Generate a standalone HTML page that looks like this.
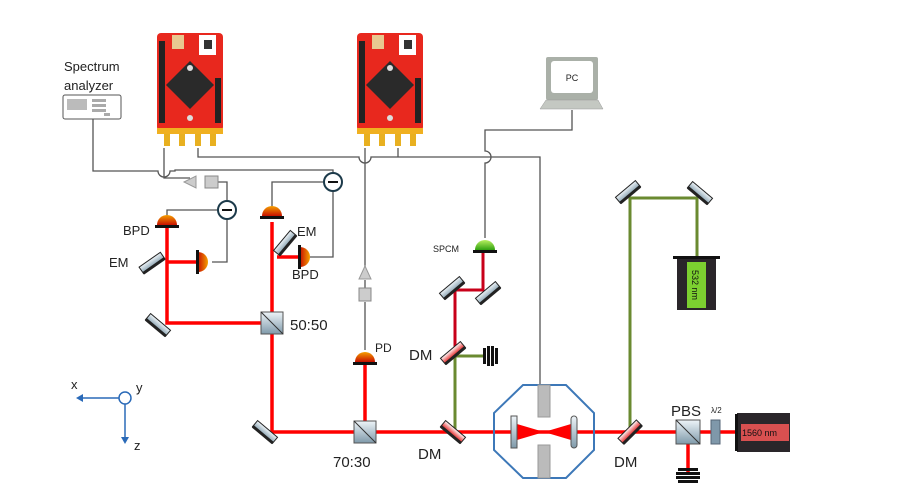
<!DOCTYPE html>
<html><head><style>body{margin:0;background:#fff}svg{display:block}text{font-family:"Liberation Sans",sans-serif}</style></head><body>
<svg width="920" height="503" viewBox="0 0 920 503" xmlns="http://www.w3.org/2000/svg">
<defs>
<linearGradient id="dome" x1="0" y1="0" x2="0" y2="1"><stop offset="0" stop-color="#f5a000"/><stop offset="1" stop-color="#c81000"/></linearGradient>
<linearGradient id="domeh" x1="0" y1="0" x2="1" y2="0"><stop offset="0" stop-color="#c81000"/><stop offset="1" stop-color="#f5a000"/></linearGradient>
<linearGradient id="gdome" x1="0" y1="0" x2="0" y2="1"><stop offset="0" stop-color="#b8f060"/><stop offset="1" stop-color="#30a010"/></linearGradient>
<linearGradient id="mir" x1="0" y1="0" x2="0" y2="1"><stop offset="0" stop-color="#eef4f8"/><stop offset="1" stop-color="#7f9aaa"/></linearGradient>
<linearGradient id="dm" x1="0" y1="0" x2="0" y2="1"><stop offset="0" stop-color="#fff"/><stop offset="1" stop-color="#e00000"/></linearGradient>
<g id="board">
<rect x="0" y="0" width="66" height="98" rx="4" fill="#e8281e"/>
<rect x="2" y="8" width="6" height="60" fill="#222"/><rect x="58" y="45" width="6" height="45" fill="#222"/><rect x="2" y="50" width="6" height="40" fill="#222"/>
<rect x="15" y="2" width="12" height="14" fill="#e8c890"/><rect x="42" y="2" width="17" height="20" fill="#fff"/><rect x="47" y="7" width="8" height="9" fill="#333"/>
<polygon points="33,28 57,52 33,76 9,52" fill="#2a2a2a"/>
<circle cx="33" cy="35" r="3" fill="#ddd"/><circle cx="33" cy="85" r="3" fill="#ddd"/>
<rect x="0" y="95" width="66" height="6" fill="#f0b020"/>
<rect x="7" y="101" width="6" height="12" fill="#e8b020"/><rect x="22" y="101" width="6" height="12" fill="#e8b020"/><rect x="38" y="101" width="6" height="12" fill="#e8b020"/><rect x="53" y="101" width="6" height="12" fill="#e8b020"/>
</g>
<g id="mirror"><rect x="-13" y="-4" width="26" height="8" fill="url(#mir)" stroke="#222" stroke-width="1"/><rect x="-13" y="2" width="26" height="3" fill="#222"/></g>
<g id="dmr"><rect x="-13" y="-4" width="26" height="8" fill="url(#dm)" stroke="#222" stroke-width="1"/><rect x="-13" y="2" width="26" height="3" fill="#222"/></g>
</defs>
<!-- gray wiring -->
<g fill="none" stroke="#555" stroke-width="1.3">
<path d="M93 119 V171 H158 a6 6 0 0 0 12 0 H175 V170 H333 V173"/>
<path d="M164 148 V178 H190"/>
<path d="M218 182 H227 V201"/>
<path d="M227 219 V262 H212"/>
<path d="M167 218 V210 H218"/>
<path d="M198 148 V157 H359 a6 6 0 0 0 12 0 H540 V385"/>
<path d="M398 148 V157"/>
<path d="M342 182 H333 M333 191 V257 H308"/>
<path d="M324 182 H272 V208"/>
<path d="M365 148 V268"/>
<path d="M365 280 V288 M365 302 V350"/>
<path d="M572 110 V130 H485 V151 a6 6 0 0 1 0 12 V238"/>
</g>
<!-- boards -->
<use href="#board" x="157" y="33"/><use href="#board" x="357" y="33"/>
<!-- spectrum analyzer -->
<text x="64" y="71" font-size="13" fill="#222">Spectrum</text><text x="64" y="90" font-size="13" fill="#222">analyzer</text>
<rect x="63" y="95" width="58" height="24" rx="2" fill="#fff" stroke="#555"/><rect x="67" y="99" width="20" height="11" fill="#bbb"/>
<g fill="#aaa"><rect x="92" y="99" width="14" height="3"/><rect x="92" y="104" width="14" height="3"/><rect x="92" y="109" width="14" height="3"/><rect x="104" y="113" width="6" height="3"/></g>
<!-- PC -->
<rect x="546" y="57" width="52" height="43" rx="2" fill="#aab0a8"/><rect x="551" y="61" width="42" height="32" rx="3" fill="#fff"/>
<text x="572" y="81" font-size="9" text-anchor="middle" fill="#222">PC</text>
<path d="M546 100 H598 L603 109 H540 Z" fill="#c4c8c2" stroke="#999" stroke-width="0.5"/>
<!-- amp & filter -->
<polygon points="184,182 196,176 196,188" fill="#ccc" stroke="#999"/><rect x="205" y="176" width="13" height="12" fill="#ccc" stroke="#888"/>
<polygon points="365,266 359,279 371,279" fill="#ccc" stroke="#999"/><rect x="359" y="288" width="12" height="13" fill="#ccc" stroke="#888"/>
<!-- subtractors -->
<g fill="#fff" stroke="#1c3a4a" stroke-width="2"><circle cx="227" cy="210" r="9"/><circle cx="333" cy="182" r="9"/></g>
<path d="M222 210 H232 M328 182 H338" stroke="#111" stroke-width="2"/>
<!-- red beams -->
<g stroke="#f00" stroke-width="3.5" fill="none">
<path d="M167 228 V323 H272 M167 262 H198"/>
<path d="M272 222 V432 H740 M277 257 H298"/>
<path d="M365 360 V432 M688 432 V475"/>
</g>
<g stroke="#c8001a" stroke-width="3" fill="none"><path d="M455 353 V290 H483 V253"/></g>
<!-- green beams -->
<g stroke="#6a8a30" stroke-width="3" fill="none"><path d="M455 432 V356 H485"/><path d="M630 432 V198 H697 V258"/></g>
<!-- detectors -->
<path d="M157 225 a10 10 0 0 1 20 0 Z" fill="url(#dome)"/><rect x="155" y="225" width="24" height="3" fill="#111"/>
<path d="M262 216 a10 10 0 0 1 20 0 Z" fill="url(#dome)"/><rect x="260" y="216" width="24" height="3" fill="#111"/>
<path d="M198 252 a10 10 0 0 1 0 20 Z" fill="url(#domeh)"/><rect x="196" y="250" width="3" height="24" fill="#111"/>
<path d="M300 247 a10 10 0 0 1 0 20 Z" fill="url(#domeh)"/><rect x="298" y="245" width="3" height="24" fill="#111"/>
<path d="M355 362 a10 10 0 0 1 20 0 Z" fill="url(#dome)"/><rect x="353" y="362" width="24" height="3" fill="#111"/>
<path d="M475 250 a10 10 0 0 1 20 0 Z" fill="url(#gdome)"/><rect x="473" y="250" width="24" height="3" fill="#111"/>
<!-- mirrors -->
<use href="#mirror" transform="translate(152,263) rotate(-35)"/>
<use href="#mirror" transform="translate(285,243) rotate(-50)"/>
<use href="#mirror" transform="translate(158,325) rotate(40)"/>
<use href="#mirror" transform="translate(265,432) rotate(40)"/>
<use href="#mirror" transform="translate(452,288) rotate(-40)"/>
<use href="#mirror" transform="translate(488,293) rotate(-40)"/>
<use href="#mirror" transform="translate(628,192) rotate(-40)"/>
<use href="#mirror" transform="translate(700,193) rotate(40)"/>
<use href="#dmr" transform="translate(453,353) rotate(-40)"/>
<use href="#dmr" transform="translate(453,432) rotate(40)"/>
<use href="#dmr" transform="translate(630,432) rotate(-45)"/>
<!-- beam splitters -->
<rect x="261" y="312" width="22" height="22" fill="url(#mir)" stroke="#555"/><path d="M261 312 L283 334" stroke="#333"/>
<rect x="354" y="421" width="22" height="22" fill="url(#mir)" stroke="#555"/><path d="M354 421 L376 443" stroke="#333"/>
<rect x="676" y="420" width="24" height="24" fill="url(#mir)" stroke="#555"/><path d="M676 420 L700 444" stroke="#333"/>
<!-- beam dumps -->
<g fill="#111"><rect x="483" y="348" width="3" height="16"/><rect x="487" y="346" width="3" height="20"/><rect x="491" y="346" width="3" height="20"/><rect x="495" y="348" width="3" height="16"/>
<rect x="678" y="468" width="20" height="3"/><rect x="676" y="472" width="24" height="3"/><rect x="676" y="476" width="24" height="3"/><rect x="678" y="480" width="20" height="3"/></g>
<!-- waveplate -->
<rect x="711" y="420" width="9" height="24" fill="#7f98aa" stroke="#567"/>
<!-- lasers -->
<rect x="677" y="257" width="39" height="53" fill="#2a262a"/><rect x="673" y="256" width="47" height="3" fill="#111"/>
<rect x="687" y="262" width="19" height="46" fill="#7cd030"/>
<text transform="translate(692,270) rotate(90)" font-size="9" fill="#111">532 nm</text>
<rect x="737" y="413" width="53" height="39" fill="#2a262a"/><rect x="735" y="414" width="3" height="37" fill="#111"/>
<rect x="741" y="424" width="48" height="17" fill="#d85050"/>
<text x="742" y="436" font-size="9" fill="#111">1560 nm</text>
<!-- cavity -->
<polygon points="523,385 566,385 594,413 594,450 566,478 523,478 494,450 494,413" fill="none" stroke="#3d78b8" stroke-width="2"/>
<rect x="538" y="385" width="12" height="32" fill="#bbb" stroke="#999"/>
<rect x="538" y="445" width="12" height="33" fill="#bbb" stroke="#999"/>
<polygon points="517,424 544,432 571,424 571,440 544,432 517,440" fill="#f00"/>
<rect x="511" y="416" width="6" height="32" fill="url(#mir)" stroke="#555"/>
<rect x="571" y="416" width="6" height="32" rx="3" fill="url(#mir)" stroke="#555"/>
<!-- axes -->
<g stroke="#2a6ab8" stroke-width="1.5" fill="none"><circle cx="125" cy="398" r="6"/><path d="M119 398 H80"/><path d="M125 404 V440"/></g>
<polygon points="76,398 83,394 83,402" fill="#2a6ab8"/><polygon points="125,444 121,437 129,437" fill="#2a6ab8"/>
<text x="71" y="389" font-size="13" fill="#222">x</text><text x="136" y="392" font-size="13" fill="#222">y</text><text x="134" y="450" font-size="13" fill="#222">z</text>
<!-- labels -->
<g font-size="13" fill="#222">
<text x="123" y="235">BPD</text><text x="109" y="267">EM</text><text x="297" y="236">EM</text><text x="292" y="279">BPD</text>
<text x="290" y="330" font-size="15">50:50</text><text x="333" y="467" font-size="15">70:30</text>
<text x="375" y="352" font-size="12">PD</text><text x="433" y="252" font-size="9">SPCM</text>
<text x="409" y="360" font-size="15">DM</text><text x="418" y="459" font-size="15">DM</text><text x="614" y="467" font-size="15">DM</text>
<text x="671" y="416" font-size="15">PBS</text><text x="711" y="413" font-size="8">λ/2</text>
</g>
</svg>
</body></html>
